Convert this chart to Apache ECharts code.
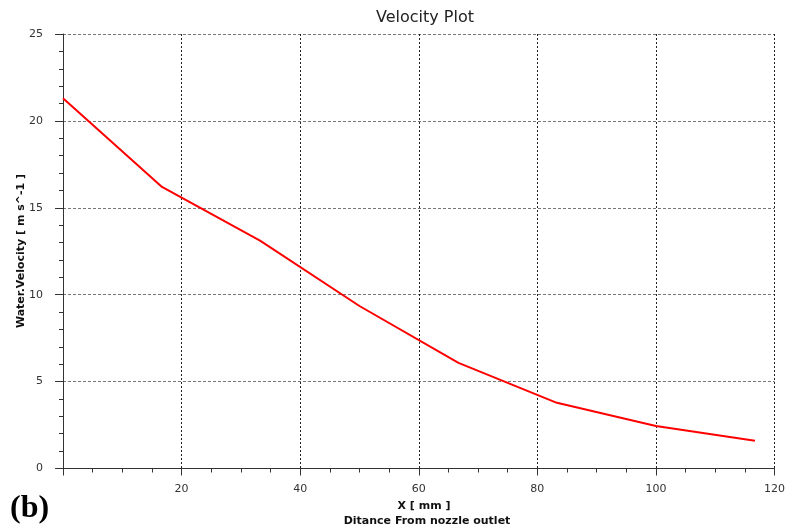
<!DOCTYPE html>
<html>
<head>
<meta charset="utf-8">
<script src="https://cdn.jsdelivr.net/npm/echarts@6/dist/echarts.min.js"></script>
<style>html,body{margin:0;padding:0;background:#fff}#c{width:788px;height:531px}</style>
</head>
<body>
<div id="c"></div>
<script>
const distance = [0, 16.7, 33.3, 50, 66.7, 83.3, 100, 116.7];
const velocity = [21.3, 16.2, 13.1, 9.35, 6.08, 3.78, 2.45, 1.6];
const xTicks = [0, 20, 40, 60, 80, 100, 120];
const yTicks = [0, 5, 10, 15, 20, 25];

const chart = echarts.init(document.getElementById('c'));
const font = 'DejaVu Sans';
chart.setOption({
  animation: false,
  backgroundColor: '#fff',
  title: {
    text: 'Velocity Plot', left: 420, top: 5, textAlign: 'center',
    textStyle: { fontFamily: font, fontSize: 16, fontWeight: 'normal', color: '#222' }
  },
  grid: { left: 63, right: 11, top: 34, bottom: 62.5, containLabel: false },
  xAxis: {
    type: 'value', min: xTicks[0], max: xTicks[xTicks.length - 1], interval: 20,
    offset: 7,
    axisLine: { show: true, lineStyle: { color: '#333', width: 1 } },
    axisTick: { show: true, length: 7, lineStyle: { color: '#333' } },
    minorTick: { show: true, splitNumber: 4, length: 4, lineStyle: { color: '#333' } },
    axisLabel: { showMinLabel: false, fontFamily: font, fontSize: 11, color: '#333', margin: 8 },
    splitLine: { show: true, lineStyle: { color: '#222', type: [2, 2], width: 1 } }
  },
  yAxis: {
    type: 'value', min: yTicks[0], max: yTicks[yTicks.length - 1], interval: 5,
    offset: 7,
    axisLine: { show: true, lineStyle: { color: '#333', width: 1 } },
    axisTick: { show: true, length: 8, lineStyle: { color: '#333' } },
    minorTick: { show: true, splitNumber: 5, length: 4, lineStyle: { color: '#333' } },
    axisLabel: { fontFamily: font, fontSize: 11, color: '#333', margin: 13 },
    splitLine: { show: true, lineStyle: { color: '#777', type: [3, 2], width: 1 } }
  },
  graphic: [
    { type: 'text', x: 21, y: 251, rotation: Math.PI / 2, style: { text: 'Water.Velocity [ m s^-1 ]', font: 'bold 11px "DejaVu Sans"', fill: '#111', align: 'center', verticalAlign: 'middle' } },
    { type: 'text', x: 424, y: 501, style: { text: 'X [ mm ]', font: 'bold 11px "DejaVu Sans"', fill: '#111', align: 'center' } },
    { type: 'text', x: 427, y: 516, style: { text: 'Ditance From nozzle outlet', font: 'bold 11px "DejaVu Sans"', fill: '#111', align: 'center' } },
    { type: 'text', x: 10, y: 493, style: { text: '(b)', font: 'bold 32px "Liberation Serif"', fill: '#000' } }
  ],
  series: [{
    type: 'line',
    data: distance.map((d, i) => [d, velocity[i]]),
    showSymbol: false,
    lineStyle: { color: '#ff0000', width: 2 },
    itemStyle: { color: '#ff0000' }
  }]
});
</script>
</body>
</html>
